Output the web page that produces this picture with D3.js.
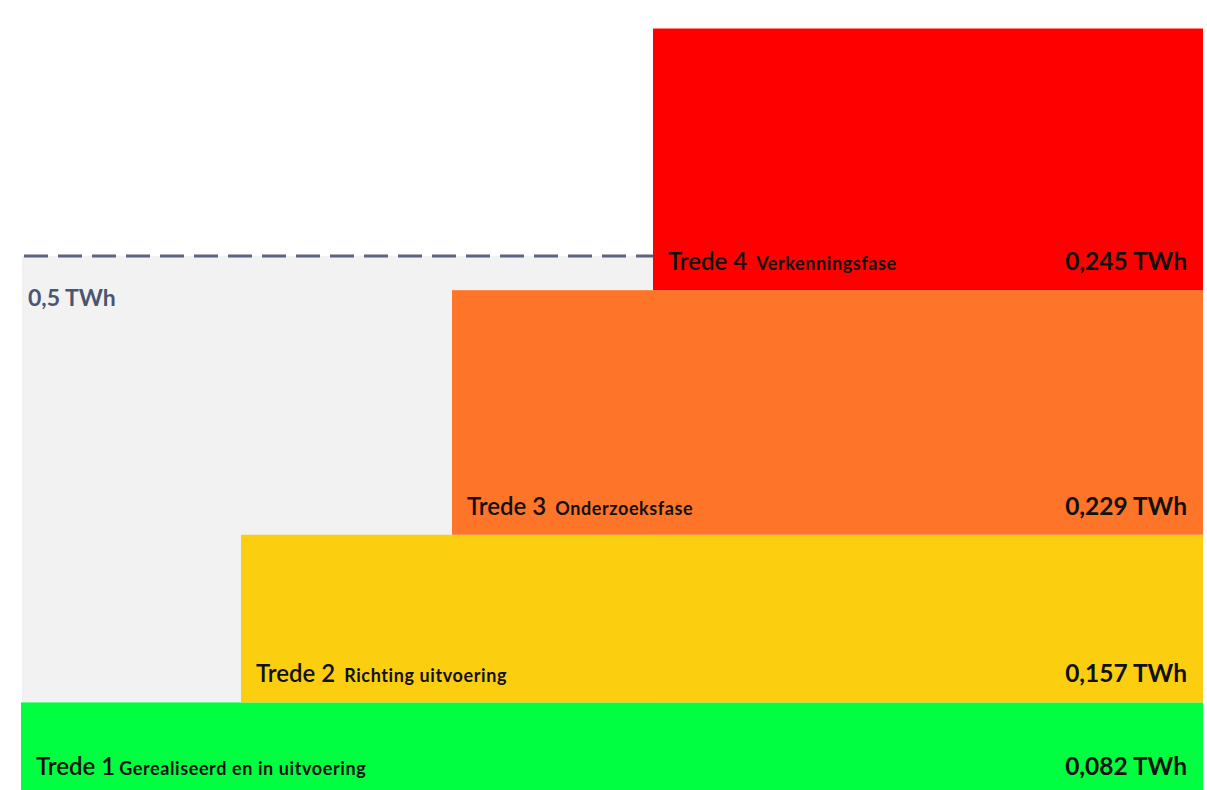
<!DOCTYPE html>
<html><head><meta charset="utf-8">
<script src="https://cdn.jsdelivr.net/npm/d3@7"></script>
<style>html,body{margin:0;padding:0;background:#fff;}svg{display:block;}</style>
</head><body>
<svg id="c" width="1207" height="790"></svg>
<script>
const tiers = ["Trede 1", "Trede 2", "Trede 3", "Trede 4"];
const phases = ["Gerealiseerd en in uitvoering", "Richting uitvoering", "Onderzoeksfase", "Verkenningsfase"];
const values = [0.082, 0.157, 0.229, 0.245];
const valueLabels = ["0,082 TWh", "0,157 TWh", "0,229 TWh", "0,245 TWh"];
const colors = ["#00ff40", "#fbcf10", "#fe7428", "#ff0000"];
const target = 0.5;
const targetLabel = "0,5 TWh";

const svg = d3.select("#c");
const W = 1207, H = 790;
const right = 1203;
const FONT = "Lato, 'Open Sans', sans-serif";

const y = d3.scaleLinear().domain([0, target]).range([H, 256]);
const x = d3.scaleLinear().domain([0, 1, 2, 3]).range([21, 241, 452, 653]);

let cum = 0;
const data = values.map((v, i) => { const d = {i, v, y0: cum, y1: cum + v}; cum += v; return d; });

// grey target background
svg.append("rect").attr("x", x(0) + 1).attr("y", y(target))
  .attr("width", x(3) - x(0) - 1).attr("height", y(0) - y(target)).attr("fill", "#f2f2f2");

// dashed target line
svg.append("line").attr("x1", x(0) + 3).attr("x2", x(3)).attr("y1", y(target)).attr("y2", y(target))
  .attr("stroke", "#5a6380").attr("stroke-width", 3).attr("stroke-dasharray", "24,10");

svg.append("text").attr("x", 28).attr("y", y(target) + 50).text(targetLabel)
  .attr("font-family", FONT).attr("font-weight", 700)
  .attr("font-size", 23).attr("fill", "#4b5572");

const g = svg.selectAll("g.tier").data(data).join("g").attr("class", "tier");
g.append("rect").attr("x", d => x(d.i)).attr("y", d => y(d.y1))
  .attr("width", d => right - x(d.i)).attr("height", d => y(d.y0) - y(d.y1))
  .attr("fill", d => colors[d.i]);

const lbl = g.append("text").attr("x", d => x(d.i) + 15)
  .attr("y", d => y(d.y0) - (d.i === 0 ? 15 : 20))
  .attr("font-family", FONT).attr("fill", "#111");
lbl.append("tspan").text(d => tiers[d.i]).attr("font-size", 24).attr("font-weight", 600);
lbl.append("tspan").text(d => phases[d.i]).attr("font-size", 18).attr("font-weight", 700)
  .attr("dx", d => d.i === 0 ? 4 : 9).attr("letter-spacing", 0.6);

g.append("text").attr("x", right - 16).attr("y", d => y(d.y0) - (d.i === 0 ? 15 : 20))
  .attr("text-anchor", "end").text(d => valueLabels[d.i])
  .attr("font-family", FONT).attr("font-weight", 700)
  .attr("font-size", 24.5).attr("fill", "#111");
</script>
</body></html>
